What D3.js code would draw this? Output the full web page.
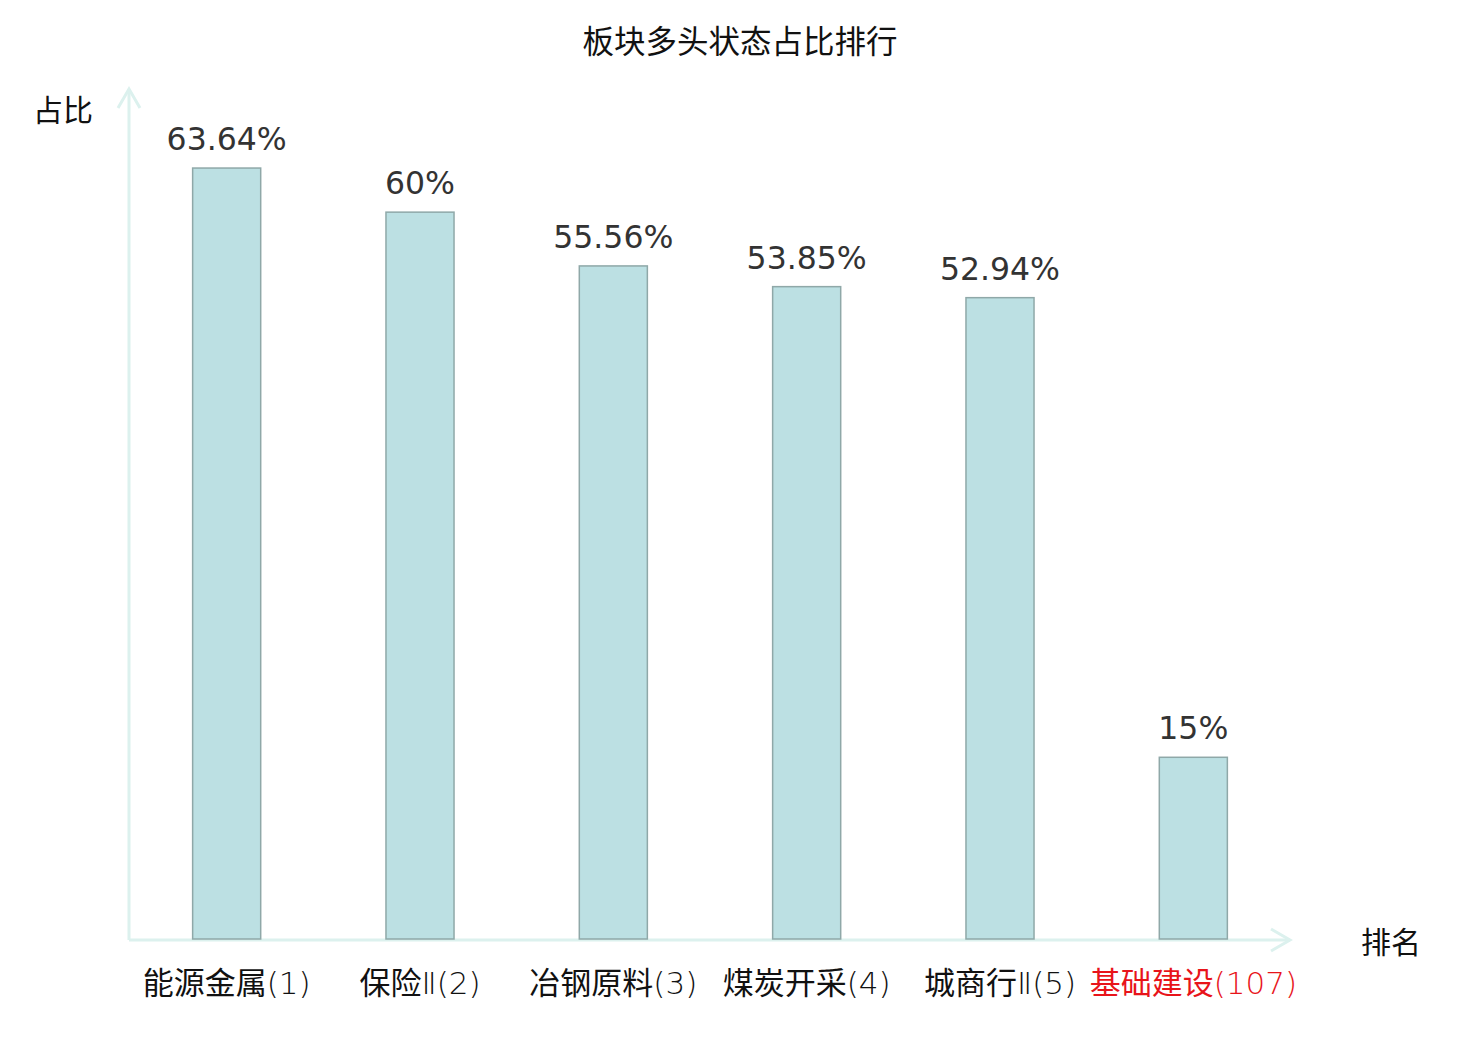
<!DOCTYPE html>
<html>
<head>
<meta charset="utf-8">
<script src="https://cdn.jsdelivr.net/npm/d3@7/dist/d3.min.js"></script>
<style>
  body { margin: 0; background: #fff; }
  svg { display: block; }
  .cjk { font-family: "Noto Sans CJK SC", "DejaVu Sans", sans-serif; }
  .val { font-family: "DejaVu Sans", sans-serif; fill: #333; }
  .thin { font-family: "DejaVu Sans", sans-serif; font-weight: 200; }
</style>
</head>
<body>
<svg id="chart" width="1480" height="1040"></svg>
<script>
// data
const sectors = ["能源金属", "保险", "冶钢原料", "煤炭开采", "城商行", "基础建设"];
const suffixes = ["", "Ⅱ", "", "", "Ⅱ", ""];
const ranks = [1, 2, 3, 4, 5, 107];
const ratios = [63.64, 60, 55.56, 53.85, 52.94, 15];
const valueLabels = ["63.64%", "60%", "55.56%", "53.85%", "52.94%", "15%"];

const svg = d3.select("#chart");
const axisColor = "#dcf1ee";

const x = d3.scaleBand().domain(sectors).range([130, 1290]).paddingInner(0.648).paddingOuter(0.324);
const y = d3.scaleLinear().domain([0, 70]).range([939, 91]);

// title
svg.append("text").attr("class", "cjk")
   .attr("x", 740).attr("y", 53)
   .attr("text-anchor", "middle")
   .attr("font-size", 31.5).attr("fill", "#111")
   .text("板块多头状态占比排行");

// axes (plain lines with open arrowheads)
const ax = svg.append("g").attr("stroke", axisColor).attr("stroke-width", 3).attr("fill", "none");
ax.append("line").attr("x1", 129).attr("y1", 940).attr("x2", 129).attr("y2", 89);
ax.append("path").attr("d", "M118,108 L129,89 L140,108");
ax.append("line").attr("x1", 129).attr("y1", 940).attr("x2", 1290).attr("y2", 940);
ax.append("path").attr("d", "M1271,929 L1290,940 L1271,951");

// axis names
svg.append("text").attr("class", "cjk")
   .attr("x", 63).attr("y", 121).attr("text-anchor", "middle")
   .attr("font-size", 30).attr("fill", "#111").text("占比");
svg.append("text").attr("class", "cjk")
   .attr("x", 1391).attr("y", 953).attr("text-anchor", "middle")
   .attr("font-size", 30).attr("fill", "#111").text("排名");

// bars
svg.append("g").selectAll("rect").data(sectors).enter().append("rect")
   .attr("x", d => x(d))
   .attr("y", (d, i) => y(ratios[i]))
   .attr("width", x.bandwidth())
   .attr("height", (d, i) => y(0) - y(ratios[i]))
   .attr("fill", "#bce0e3")
   .attr("stroke", "#8fa8a8")
   .attr("stroke-width", 1.5);

// value labels
svg.append("g").selectAll("text").data(sectors).enter().append("text")
   .attr("class", "val")
   .attr("x", d => x(d) + x.bandwidth() / 2)
   .attr("y", (d, i) => y(ratios[i]) - 18)
   .attr("text-anchor", "middle")
   .attr("font-size", 31.5)
   .text((d, i) => valueLabels[i]);

// category labels: CJK name + thin latin rank
const lab = svg.append("g").selectAll("text").data(sectors).enter().append("text")
   .attr("class", "cjk")
   .attr("x", d => x(d) + x.bandwidth() / 2)
   .attr("y", 994)
   .attr("text-anchor", "middle")
   .attr("font-size", 31)
   .attr("fill", (d, i) => i == sectors.length - 1 ? "#e8141a" : "#111");
lab.append("tspan").text(d => d);
lab.append("tspan").attr("class", "thin").text((d, i) => suffixes[i] + "(" + ranks[i] + ")");
</script>
</body>
</html>
